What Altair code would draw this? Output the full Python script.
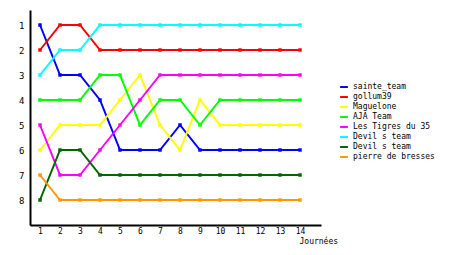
import altair as alt
import pandas as pd

journees = list(range(1, 15))
names = ["sainte_team", "gollum39", "Maguelone", "AJA Team", "Les Tigres du 35",
         "Devil s team", "Devil s team ", "pierre de bresses"]
colors = ["#0000ff", "#ff0000", "#ffff00", "#00ff00", "#ff00ff", "#00ffff", "#006600", "#ff9900"]

sainte_team = [1, 3, 3, 4, 6, 6, 6, 5, 6, 6, 6, 6, 6, 6]
gollum39 = [2, 1, 1, 2, 2, 2, 2, 2, 2, 2, 2, 2, 2, 2]
maguelone = [6, 5, 5, 5, 4, 3, 5, 6, 4, 5, 5, 5, 5, 5]
aja_team = [4, 4, 4, 3, 3, 5, 4, 4, 5, 4, 4, 4, 4, 4]
tigres = [5, 7, 7, 6, 5, 4, 3, 3, 3, 3, 3, 3, 3, 3]
devil_cyan = [3, 2, 2, 1, 1, 1, 1, 1, 1, 1, 1, 1, 1, 1]
devil_green = [8, 6, 6, 7, 7, 7, 7, 7, 7, 7, 7, 7, 7, 7]
pierre = [7, 8, 8, 8, 8, 8, 8, 8, 8, 8, 8, 8, 8, 8]

series = [sainte_team, gollum39, maguelone, aja_team, tigres, devil_cyan, devil_green, pierre]

rows = []
for name, vals in zip(names, series):
    for j, v in zip(journees, vals):
        rows.append({"team": name, "journee": j, "rang": v})
df = pd.DataFrame(rows)

FONT = "DejaVu Sans Mono"

x = alt.X("journee:Q",
          scale=alt.Scale(domain=[0.5, 15.05], nice=False, zero=False),
          axis=alt.Axis(values=journees, title="Journées", grid=False, ticks=False,
                        domainColor="black", domainWidth=2, labelPadding=2,
                        labelFontSize=8, labelColor="black", labelFont=FONT,
                        titleFont=FONT, titleFontSize=8, titleFontWeight="normal",
                        titleColor="black", titleX=269, titleY=18, titleAlign="left",
                        titleBaseline="alphabetic"))
y = alt.Y("rang:Q",
          scale=alt.Scale(domain=[0.4, 9], reverse=True, nice=False, zero=False),
          axis=alt.Axis(values=list(range(1, 9)), title=None, grid=False, ticks=False,
                        domainColor="black", domainWidth=2, labelPadding=6,
                        labelFontSize=9, labelColor="black", labelFont=FONT))
color = alt.Color("team:N",
                  scale=alt.Scale(domain=names, range=colors),
                  sort=names,
                  legend=alt.Legend(title=None, orient="none", legendX=309, legendY=72,
                                    symbolType="stroke", symbolStrokeWidth=2,
                                    symbolSize=60, rowPadding=1,
                                    labelFont=FONT, labelFontSize=8, labelColor="black",
                                    labelLimit=200, labelOffset=4))

base = alt.Chart(df).encode(x=x, y=y, color=color, detail="team:N")
lines = base.mark_line(strokeWidth=2, interpolate="linear")
pts = base.mark_square(size=12, opacity=1, filled=True).encode(
    color=alt.Color("team:N", scale=alt.Scale(domain=names, range=colors), legend=None))

chart = (lines + pts).properties(
    width=291, height=215,
    autosize=alt.AutoSizeParams(type="none"),
    padding={"left": 30, "top": 10, "right": 139, "bottom": 30},
    background="white",
).configure_view(stroke=None)

chart.save("out.html", embed_options={"renderer": "svg", "actions": False})
